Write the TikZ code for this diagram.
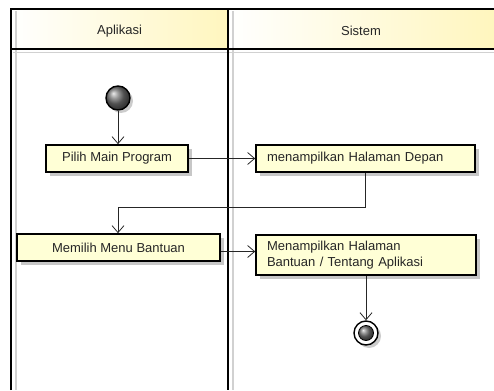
\documentclass[tikz,border=0pt]{standalone}
\usepackage{fontspec}
\setmainfont{Liberation Sans}
\usetikzlibrary{arrows.meta,shadows,calc}
\definecolor{boxfill}{HTML}{FFFFD6}
\definecolor{headyel}{HTML}{FFF6BE}
\definecolor{txt}{HTML}{262626}
\tikzset{
  actbox/.style={draw=black, line width=1.6pt, fill=boxfill, minimum height=27pt,
    inner sep=0pt, font=\fontsize{13}{16}\selectfont, text=txt,
    drop shadow={shadow xshift=4pt, shadow yshift=-4pt, fill=black!22, opacity=1}},
  flow/.style={draw=black!85, line width=0.8pt, -{Straight Barb[length=7pt,width=12pt,line width=0.8pt]}},
  lane/.style={draw=black, line width=1.6pt},
  laneshadow/.style={draw=black!18, line width=1.6pt},
  headtext/.style={font=\fontsize{13}{16}\selectfont, text=txt}
}
\begin{document}
\begin{tikzpicture}[x=1pt,y=-1pt]
\useasboundingbox (0,0) rectangle (494,390);
% header fills
\shade[left color=white, right color=headyel] (11,9) rectangle (228,49);
\shade[left color=white, right color=headyel] (228,9) rectangle (494,49);
% lane shadows
\draw[laneshadow] (16,11) -- (16,390);
\draw[laneshadow] (233,11) -- (233,390);
\draw[laneshadow] (13,52.5) -- (494,52.5);
% lane borders
\draw[lane] (11,390) -- (11,9) -- (494,9);
\draw[lane] (11,49) -- (494,49);
\draw[lane] (228,9) -- (228,390);
\node[headtext] (hA) at (119.5,31) {Aplikasi};
\node[headtext] (hS) at (361,31) {Sistem};
% start node
\node[circle, draw=black, line width=1.4pt, minimum size=24pt, inner sep=0pt,
  shading=ball, ball color=black!55,
  drop shadow={shadow xshift=3pt, shadow yshift=-3pt, fill=black!20, opacity=1}] (start) at (118,98) {};
% activities
\node[actbox, minimum width=142pt] (pilih) at (117,158.5) {Pilih Main Program};
\node[actbox, minimum width=219pt, text width=197pt, align=left, inner xsep=11pt] (hd) at (365.5,158.5) {menampilkan Halaman Depan};
\node[actbox, minimum width=203pt] (memilih) at (118.5,247.5) {Memilih Menu Bantuan};
\node[actbox, minimum width=220pt, minimum height=40pt, text width=198pt, align=left, inner xsep=11pt, font=\fontsize{13}{16.5}\selectfont] (bantuan) at (366,255) {Menampilkan Halaman\\Bantuan / Tentang Aplikasi};
% end node
\node[circle, draw=black, line width=1.4pt, fill=white, minimum size=24pt, inner sep=0pt,
  drop shadow={shadow xshift=3pt, shadow yshift=-3pt, fill=black!20, opacity=1}] (end) at (366,333) {};
\node[circle, draw=black, line width=0.8pt, minimum size=15pt, inner sep=0pt,
  shading=ball, ball color=black!55] (endin) at (end.center) {};
% flows
\draw[flow] (start.south) -- (start.south |- pilih.north);
\draw[flow] (pilih.east) -- (pilih.east -| hd.west);
\coordinate (bend) at (118,207);
\draw[flow] (hd.south) |- (bend) -- (bend |- memilih.north);
\draw[flow] ([yshift=-4pt]memilih.east) -- ([yshift=-4pt]memilih.east -| bantuan.west);
\draw[flow] (bantuan.south) -- (end.north);
\end{tikzpicture}
\end{document}
